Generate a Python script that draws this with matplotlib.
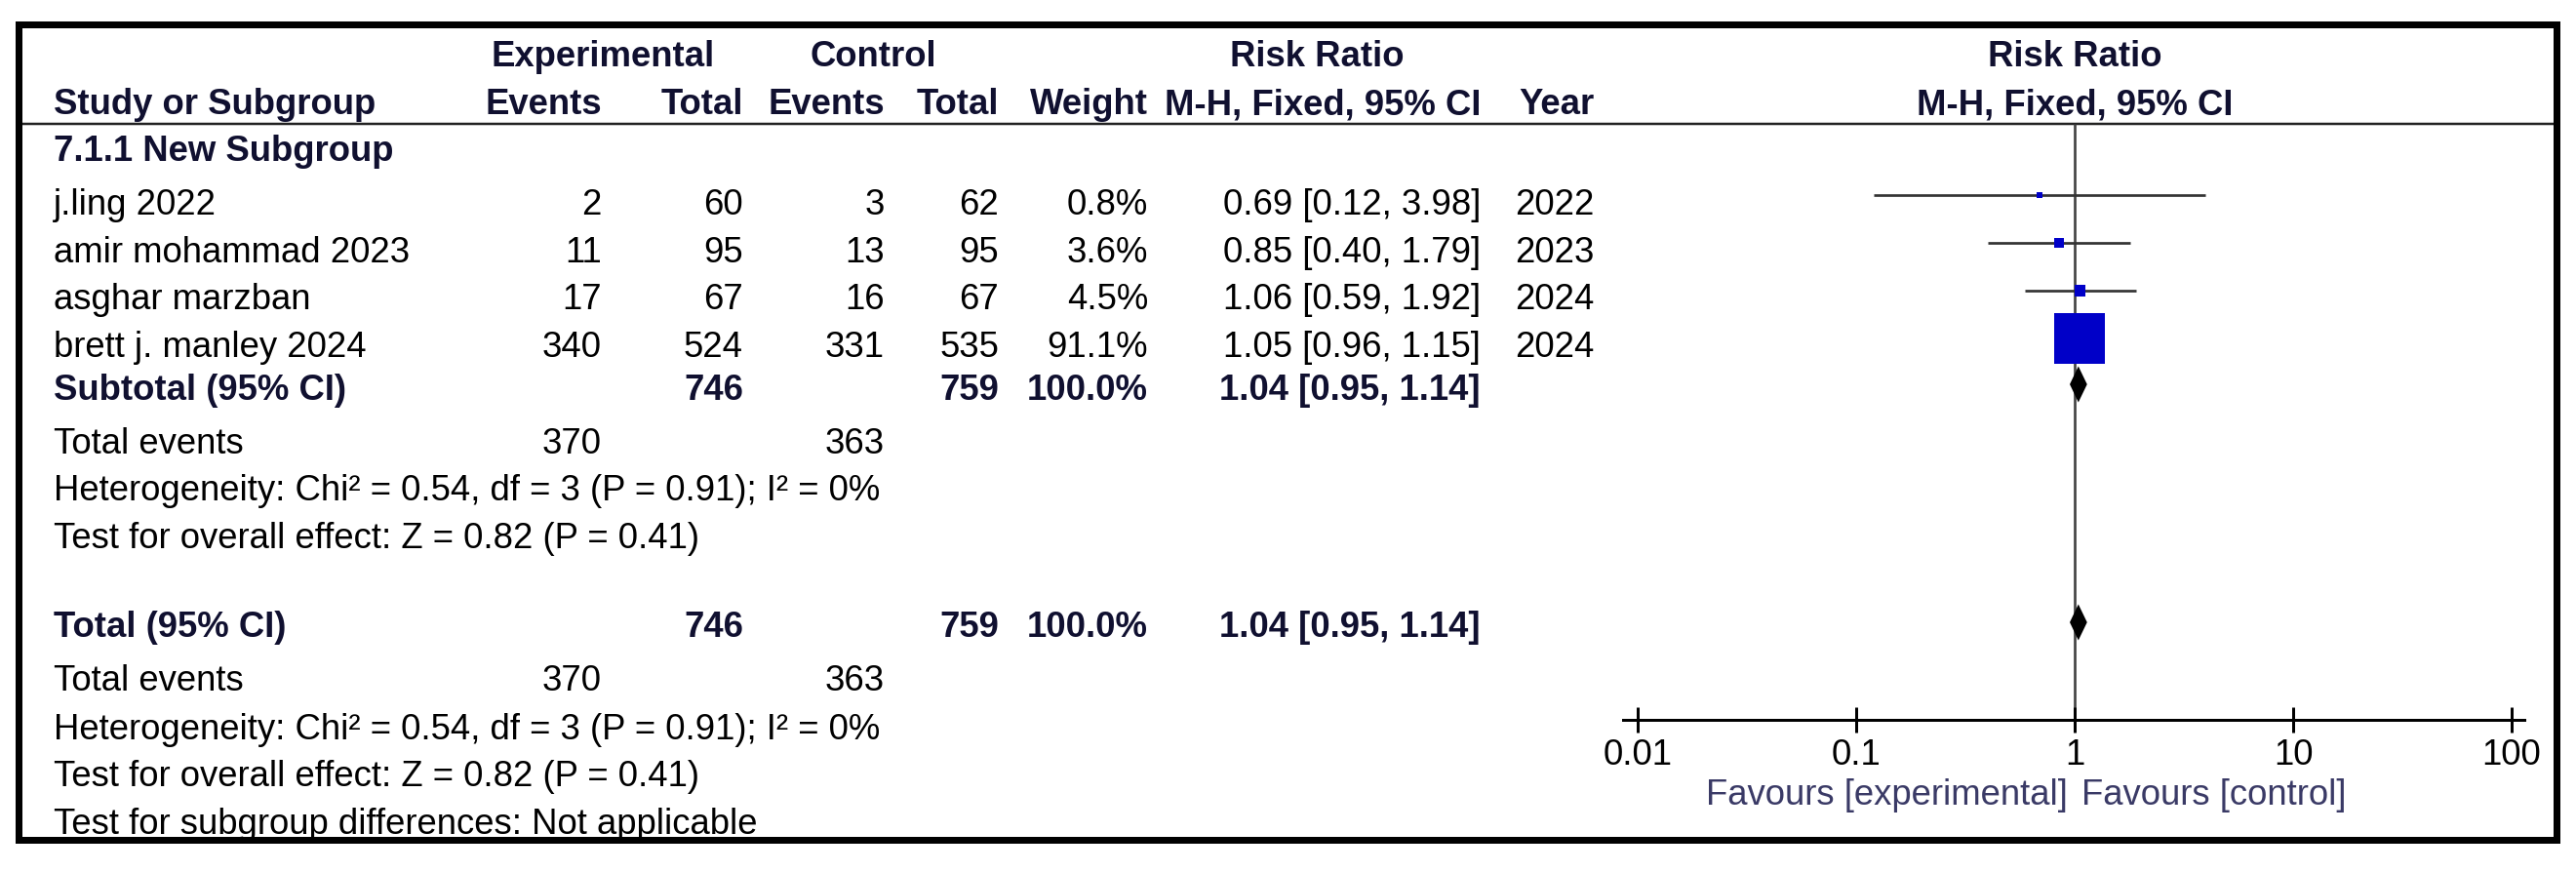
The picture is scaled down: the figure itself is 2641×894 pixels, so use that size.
import numpy as np
import matplotlib
matplotlib.use("Agg")
from matplotlib import pyplot as plt
from matplotlib.patches import Rectangle

plt.rcParams['font.family'] = ['Liberation Sans', 'DejaVu Sans']

# study data
studies     = ["j.ling 2022", "amir mohammad 2023", "asghar marzban", "brett j. manley 2024"]
exp_events  = [2, 11, 17, 340]
exp_total   = [60, 95, 67, 524]
ctrl_events = [3, 13, 16, 331]
ctrl_total  = [62, 95, 67, 535]
weights     = [0.8, 3.6, 4.5, 91.1]
rr          = [0.69, 0.85, 1.06, 1.05]
ci_lo       = [0.12, 0.40, 0.59, 0.96]
ci_hi       = [3.98, 1.79, 1.92, 1.15]
years       = [2022, 2023, 2024, 2024]

# pooled results
pooled_rr, pooled_lo, pooled_hi = 1.04, 0.95, 1.14
sum_exp_total, sum_ctrl_total = 746, 759
sum_exp_events, sum_ctrl_events = 370, 363
het_text    = "Heterogeneity: Chi\u00b2 = 0.54, df = 3 (P = 0.91); I\u00b2 = 0%"
effect_text = "Test for overall effect: Z = 0.82 (P = 0.41)"
subgrp_text = "Test for subgroup differences: Not applicable"

tick_vals   = [0.01, 0.1, 1, 10, 100]
tick_labels = ["0.01", "0.1", "1", "10", "100"]

W, H = 2641, 895
PX = 0.72          # points per pixel at dpi 100
FS = 26.3
HDR = '#101030'

fig = plt.figure(figsize=(W / 100, H / 100), dpi=100)
ax = fig.add_axes([0, 0, 1, 1])
ax.set_xlim(0, W)
ax.set_ylim(H, 0)
ax.axis('off')

def txt(x, y, s, ha='left', bold=False, color='black'):
    ax.text(x, y, s, ha=ha, va='baseline', fontsize=FS,
            fontweight='bold' if bold else 'normal', color=color)

# column positions
x_name, x_eev, x_etot, x_cev, x_ctot, x_w, x_rr, x_year = 55, 617, 762, 907, 1024, 1177, 1518, 1553

# header
txt(618, 68, "Experimental", ha='center', bold=True, color=HDR)
txt(895, 68, "Control", ha='center', bold=True, color=HDR)
txt(1350, 68, "Risk Ratio", ha='center', bold=True, color=HDR)
txt(2127, 68, "Risk Ratio", ha='center', bold=True, color=HDR)
txt(x_name, 117, "Study or Subgroup", bold=True, color=HDR)
txt(x_eev, 117, "Events", ha='right', bold=True, color=HDR)
txt(x_etot, 117, "Total", ha='right', bold=True, color=HDR)
txt(x_cev, 117, "Events", ha='right', bold=True, color=HDR)
txt(x_ctot, 117, "Total", ha='right', bold=True, color=HDR)
txt(x_w, 117, "Weight", ha='right', bold=True, color=HDR)
txt(x_rr, 117, "M-H, Fixed, 95% CI", ha='right', bold=True, color=HDR)
txt(1557, 117, "Year", bold=True, color=HDR)
txt(2127, 117, "M-H, Fixed, 95% CI", ha='center', bold=True, color=HDR)
ax.plot([18, 2621], [128, 128], color='#222222', lw=2.5 * PX)

txt(x_name, 165, "7.1.1 New Subgroup", bold=True, color=HDR)

# study rows
row_base = [220, 268.5, 317, 365.5]
for i, yb in enumerate(row_base):
    txt(x_name, yb, studies[i])
    txt(x_eev, yb, str(exp_events[i]), ha='right')
    txt(x_etot, yb, str(exp_total[i]), ha='right')
    txt(x_cev, yb, str(ctrl_events[i]), ha='right')
    txt(x_ctot, yb, str(ctrl_total[i]), ha='right')
    txt(x_w, yb, f"{weights[i]:.1f}%", ha='right')
    txt(x_rr, yb, f"{rr[i]:.2f} [{ci_lo[i]:.2f}, {ci_hi[i]:.2f}]", ha='right')
    txt(x_year, yb, str(years[i]))

pooled_str = f"{pooled_rr:.2f} [{pooled_lo:.2f}, {pooled_hi:.2f}]"
w_sum = f"{sum(weights):.1f}%"

# subtotal + total blocks
for label, yb, foot in [("Subtotal (95% CI)", 410, [465, 513, 562]),
                        ("Total (95% CI)", 653, [708, 758, 806])]:
    txt(x_name, yb, label, bold=True, color=HDR)
    txt(x_etot, yb, str(sum_exp_total), ha='right', bold=True, color=HDR)
    txt(x_ctot, yb, str(sum_ctrl_total), ha='right', bold=True, color=HDR)
    txt(x_w, yb, w_sum, ha='right', bold=True, color=HDR)
    txt(x_rr, yb, pooled_str, ha='right', bold=True, color=HDR)
    txt(x_name, foot[0], "Total events")
    txt(x_eev, foot[0], str(sum_exp_events), ha='right')
    txt(x_cev, foot[0], str(sum_ctrl_events), ha='right')
    txt(x_name, foot[1], het_text)
    txt(x_name, foot[2], effect_text)
txt(x_name, 855, subgrp_text)

# forest plot axes, decade = 224 px, 1 at x=2127
dec = 224.0
x_left, x_right = 1664, 2588
ax2 = fig.add_axes([x_left / W, 0, (x_right - x_left) / W, 1])
ax2.set_xscale('log')
ax2.set_xlim(10 ** (-(2127 - x_left) / dec), 10 ** ((x_right - 2127) / dec))
ax2.set_ylim(H, 0)
ax2.patch.set_alpha(0)
for s in ['top', 'left', 'right']:
    ax2.spines[s].set_visible(False)
ax2.spines['bottom'].set_position(('data', 739))
ax2.spines['bottom'].set_linewidth(3 * PX)
ax2.set_yticks([])
ax2.set_xticks(tick_vals)
ax2.set_xticklabels(tick_labels)
ax2.xaxis.set_minor_locator(matplotlib.ticker.NullLocator())
ax2.tick_params(axis='x', direction='inout', length=26 * PX, width=3 * PX,
                labelsize=FS, pad=3.6)

ax2.vlines(1, 128, 739, color='#444444', lw=2.7 * PX, zorder=1)

ci_y = [201, 250, 299, 348]
ax2.hlines(ci_y, ci_lo, ci_hi, color='#333333', lw=2.7 * PX, zorder=2)
side = np.maximum(52 * np.sqrt(np.array(weights) / max(weights)), 6)
ax2.scatter(rr, ci_y, marker='s', s=(side * PX) ** 2, color='#0000c8',
            linewidths=0, zorder=3)

for yd in [395, 639]:
    ax2.fill([pooled_lo, pooled_rr, pooled_hi, pooled_rr],
             [yd, yd - 18.5, yd, yd + 18.5], color='black', lw=0, zorder=3)

ax2.text(0.93, 825, "Favours [experimental]", ha='right', va='baseline',
         fontsize=FS, color='#3a3a66')
ax2.text(1.07, 825, "Favours [control]", ha='left', va='baseline',
         fontsize=FS, color='#3a3a66')

# outer frame
ax.add_patch(Rectangle((18.5, 26), 2621 - 18.5, 861.5 - 26, fill=False,
                       lw=7 * PX, edgecolor='black', zorder=10))

fig.savefig("out.png", dpi=100)
